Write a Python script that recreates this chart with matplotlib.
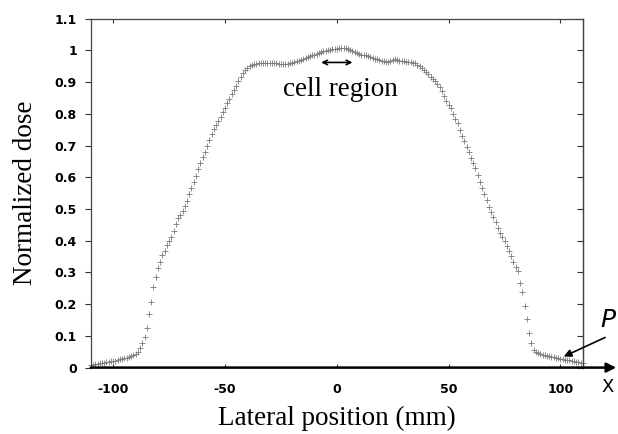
import numpy as np
import matplotlib
matplotlib.use("Agg")
import matplotlib.pyplot as plt

# lateral positions (mm), one reading per mm
position_mm = np.arange(-110, 111)

# normalized dose, left tail -> plateau -> right tail
dose_left = [
    0.008, 0.009, 0.011, 0.012, 0.013, 0.015, 0.016, 0.018, 0.019, 0.020,  # -110..-101
    0.021, 0.022, 0.024, 0.026, 0.027, 0.029, 0.031, 0.033, 0.036, 0.039,  # -100..-91
    0.044, 0.050, 0.062, 0.076, 0.095, 0.125, 0.168, 0.208, 0.255, 0.287,  # -90..-81
    0.313, 0.333, 0.355, 0.366, 0.385, 0.398, 0.413, 0.432, 0.452, 0.471,  # -80..-71
    0.482, 0.494, 0.510, 0.525, 0.546, 0.566, 0.585, 0.605, 0.625, 0.644,  # -70..-61
    0.663, 0.681, 0.700, 0.718, 0.736, 0.751, 0.765, 0.777, 0.791, 0.805,  # -60..-51
    0.819, 0.833, 0.847, 0.861, 0.875, 0.889, 0.903, 0.916, 0.928, 0.938,  # -50..-41
]
dose_plateau = [
    0.945, 0.951, 0.955, 0.957, 0.958, 0.959, 0.960, 0.961, 0.961, 0.960,  # -40..-31
    0.960, 0.960, 0.959, 0.959, 0.958, 0.957, 0.956, 0.956, 0.957, 0.959,  # -30..-21
    0.961, 0.963, 0.966, 0.968, 0.971, 0.974, 0.977, 0.980, 0.982, 0.985,  # -20..-11
    0.987, 0.990, 0.992, 0.995, 0.997, 0.999, 1.000, 1.002, 1.003, 1.004,  # -10..-1
    1.005, 1.006, 1.007, 1.008, 1.006, 1.003, 1.000, 0.997, 0.994, 0.991,  # 0..9
    0.989, 0.987, 0.985, 0.984, 0.981, 0.978, 0.976, 0.974, 0.972, 0.970,  # 10..19
    0.968, 0.966, 0.964, 0.963, 0.966, 0.970, 0.972, 0.970, 0.968, 0.966,  # 20..29
    0.965, 0.964, 0.963, 0.962, 0.961, 0.959, 0.955, 0.950, 0.944, 0.938,  # 30..39
]
dose_right = [
    0.931, 0.924, 0.917, 0.910, 0.902, 0.894, 0.884, 0.872, 0.857, 0.839,  # 40..49
    0.829, 0.818, 0.801, 0.785, 0.771, 0.748, 0.730, 0.713, 0.696, 0.679,  # 50..59
    0.662, 0.645, 0.628, 0.607, 0.586, 0.565, 0.547, 0.529, 0.507, 0.491,  # 60..69
    0.474, 0.458, 0.440, 0.424, 0.412, 0.400, 0.383, 0.367, 0.352, 0.334,  # 70..79
    0.316, 0.305, 0.268, 0.238, 0.195, 0.153, 0.108, 0.077, 0.057, 0.050,  # 80..89
    0.046, 0.043, 0.041, 0.039, 0.037, 0.035, 0.034, 0.032, 0.031, 0.029,  # 90..99
    0.028, 0.026, 0.025, 0.024, 0.023, 0.021, 0.020, 0.019, 0.017, 0.016,  # 100..109
    0.015,                                                                 # 110
]
dose = np.array(dose_left + dose_plateau + dose_right)

x_ticks = [-100, -50, 0, 50, 100]
y_ticks = [0, 0.1, 0.2, 0.3, 0.4, 0.5, 0.6, 0.7, 0.8, 0.9, 1, 1.1]
y_tick_labels = ["0", "0.1", "0.2", "0.3", "0.4", "0.5", "0.6", "0.7", "0.8", "0.9", "1", "1.1"]

serif = "Liberation Serif"
tick_font = dict(family="DejaVu Sans", weight="bold", size=9)

fig = plt.figure(figsize=(6.18, 4.34), dpi=100)
ax = fig.add_axes([0.147, 0.153, 0.796, 0.804])

ax.plot(position_mm, dose, linestyle="none", marker="+", markersize=4,
        markeredgewidth=0.6, color="#7a7a7a", clip_on=False)

ax.set_xlim(-110, 110)
ax.set_ylim(0, 1.1)

# left ticks point out and carry labels
ax.set_yticks(y_ticks)
ax.set_yticklabels(y_tick_labels, fontdict=tick_font)
ax.tick_params(axis="y", left=True, right=False, direction="out",
               length=4, width=0.8, color="#333333", pad=6)

# right side: short inward ticks, no labels
right = ax.secondary_yaxis("right")
right.set_yticks(y_ticks)
right.set_yticklabels([])
right.tick_params(direction="in", length=4, width=0.8, color="#333333")
right.spines["right"].set_color("#444444")
right.spines["right"].set_linewidth(0.9)

ax.set_xticks(x_ticks)
ax.set_xticklabels([str(v) for v in x_ticks], fontdict=tick_font)
ax.tick_params(axis="x", top=True, bottom=True, direction="in", length=3,
               width=0.8, color="#333333", pad=11)

for side in ["top", "left", "right"]:
    ax.spines[side].set_color("#444444")
    ax.spines[side].set_linewidth(0.9)
ax.spines["bottom"].set_visible(False)

# x axis drawn as an arrow that runs past the frame
ax.annotate("", xy=(1.068, 0), xytext=(0, 0), xycoords="axes fraction",
            textcoords="axes fraction",
            arrowprops=dict(arrowstyle="-|>", color="black", lw=1.8,
                            mutation_scale=14, shrinkA=0, shrinkB=0),
            annotation_clip=False)
ax.text(1.038, -0.056, "X", transform=ax.transAxes, ha="left", va="center",
        fontsize=13, family="DejaVu Sans", clip_on=False)

ax.set_xlabel("Lateral position (mm)", family=serif, fontsize=19.5, labelpad=7)
ax.set_ylabel("Normalized dose", family=serif, fontsize=19.5, labelpad=12)

# cell region marker
ax.annotate("", xy=(7, 0.962), xytext=(-7, 0.962),
            arrowprops=dict(arrowstyle="<->", color="black", lw=1.2,
                            mutation_scale=8, shrinkA=0, shrinkB=0))
ax.text(1.5, 0.876, "cell region", family=serif, fontsize=19.5,
        ha="center", va="center")

# P label with arrow to the tail
ax.annotate("", xy=(101.5, 0.035), xytext=(120, 0.095),
            arrowprops=dict(arrowstyle="-|>", color="black", lw=1.2,
                            mutation_scale=11, shrinkA=0, shrinkB=0),
            annotation_clip=False)
ax.text(118.0, 0.15, "P", family="DejaVu Sans", style="italic", fontsize=18,
        ha="left", va="center", clip_on=False)

fig.savefig("out.png", dpi=100)
